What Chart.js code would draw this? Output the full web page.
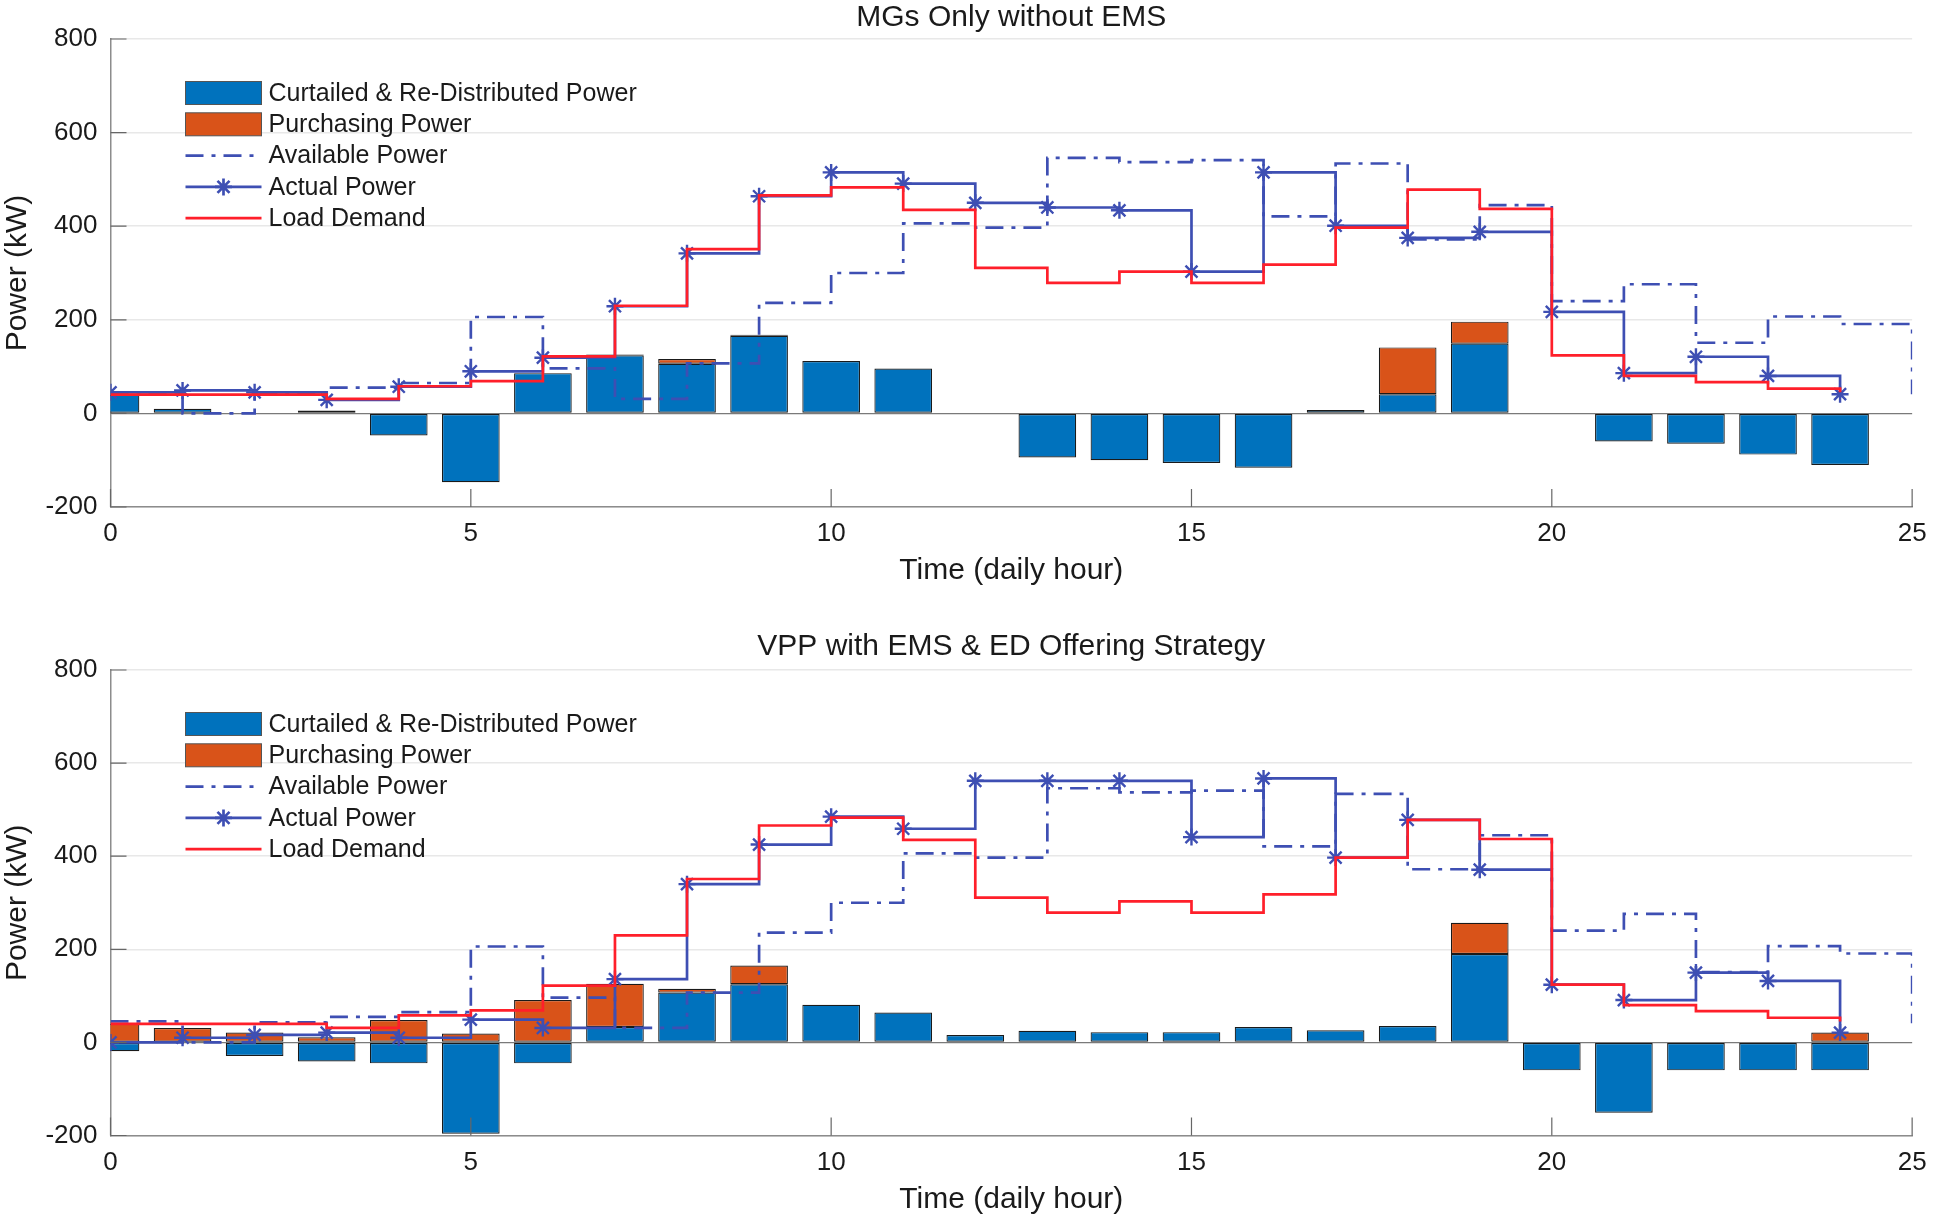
<!DOCTYPE html>
<html>
<head>
<meta charset="utf-8">
<title>MGs vs VPP power</title>
<script src="https://cdn.jsdelivr.net/npm/chart.js@4.4.1/dist/chart.umd.min.js"></script>
<style>
  html, body { margin: 0; padding: 0; background: #fff; }
  canvas { display: block; }
</style>
</head>
<body>
<canvas id="topChart" width="1938" height="611"></canvas>
<canvas id="bottomChart" width="1938" height="611"></canvas>
<script>
// ---------- DATA ----------
const hours = [0, 1, 2, 3, 4, 5, 6, 7, 8, 9, 10, 11, 12, 13, 14, 15, 16, 17, 18, 19, 20, 21, 22, 23, 24];
const availHours = [0, 1, 2, 3, 4, 5, 6, 7, 8, 9, 10, 11, 12, 13, 14, 15, 16, 17, 18, 19, 20, 21, 22, 23, 24, 25];

// same in both plots
const availablePower = [45, 0, 43, 55, 65, 206, 96, 31, 107, 236, 300, 406, 397, 546, 537, 541, 421, 534, 372, 445, 240, 276, 151, 207, 191, 41];
const loadDemand = [40, 40, 40, 31, 58, 69, 122, 230, 351, 466, 483, 435, 311, 279, 303, 279, 318, 397, 478, 437, 124, 80, 67, 53, 45];

// MGs only without EMS
const mgActual = [45, 49, 45, 29, 57, 90, 119, 229, 342, 464, 515, 491, 450, 440, 434, 303, 515, 401, 375, 388, 217, 86, 121, 80, 41];
const mgCurtailed = [40, 10, 0, 6, -47, -147, 86, 124, 106, 166, 112, 96, 0, -94, -100, -106, -116, 7, 41, 149, 0, -60, -65, -88, -110];
const mgPurchasing = [0, 0, 0, 0, 0, 0, 0, 2, 10, 2, 0, 0, 0, 0, 0, 0, 0, 0, 100, 47, 0, 0, 0, 0, 0];

// VPP with EMS & ED offering strategy
const vppActual = [0, 10, 16, 21, 10, 49, 31, 136, 340, 425, 485, 459, 562, 562, 562, 441, 567, 397, 478, 371, 124, 91, 150, 132, 21];
const vppCurtailed = [-19, 0, -29, -41, -45, -196, -45, 33, 107, 125, 81, 64, 16, 25, 22, 22, 33, 26, 35, 190, -60, -151, -60, -60, -60];
const vppPurchasing = [40, 31, 21, 11, 48, 19, 91, 93, 8, 40, 0, 0, 0, 0, 0, 0, 0, 0, 0, 67, 0, 0, 0, 0, 21];

// ---------- STYLE ----------
const FONT = "'Liberation Sans', Arial, Helvetica, sans-serif";
const TEXT = "#1a1a1a";
const AXIS = "#8c8c8c";
const BLUE_BAR = "#0072BD";
const ORANGE_BAR = "#D95319";
const LINE_BLUE = "#3e4fb3";
const LINE_RED = "#ff1f2a";

function pts(xs, ys) {
  return ys.map((v, i) => ({ x: xs[i], y: v }));
}

// ---------- PLUGINS ----------
// MATLAB style ticks pointing into the plot
const innerTicks = {
  id: "innerTicks",
  afterDraw(chart) {
    const { ctx, chartArea, scales } = chart;
    ctx.save();
    ctx.strokeStyle = "#666";
    ctx.lineWidth = 1.2;
    ctx.beginPath();
    scales.x.ticks.forEach((t) => {
      const px = scales.x.getPixelForValue(t.value);
      ctx.moveTo(px, chartArea.bottom);
      ctx.lineTo(px, chartArea.bottom - 18);
    });
    scales.y.ticks.forEach((t) => {
      const py = scales.y.getPixelForValue(t.value);
      ctx.moveTo(chartArea.left, py);
      ctx.lineTo(chartArea.left + 16, py);
    });
    ctx.stroke();
    ctx.restore();
  },
};

// legend drawn inside the plot, upper left
const insideLegend = {
  id: "insideLegend",
  afterDraw(chart) {
    const { ctx, chartArea } = chart;
    const x0 = chartArea.left + 75;
    const w = 76;
    let y = chartArea.top + 54;

    ctx.save();
    ctx.font = "25px " + FONT;
    ctx.textBaseline = "middle";
    ctx.textAlign = "left";

    chart.data.datasets.forEach((ds) => {
      if (ds.type === "line") {
        ctx.strokeStyle = ds.borderColor;
        ctx.lineWidth = ds.borderWidth;
        ctx.setLineDash(ds.borderDash || []);
        ctx.beginPath();
        ctx.moveTo(x0, y);
        ctx.lineTo(x0 + w, y);
        ctx.stroke();
        ctx.setLineDash([]);
        if (ds.pointRadius > 0) {
          ctx.strokeStyle = ds.pointBorderColor;
          Chart.helpers.drawPoint(ctx, {
            pointStyle: ds.pointStyle,
            radius: ds.pointRadius,
            borderWidth: ds.pointBorderWidth,
          }, x0 + w / 2, y);
        }
      } else {
        ctx.fillStyle = ds.backgroundColor;
        ctx.fillRect(x0, y - 11.5, w, 23);
        ctx.strokeStyle = "#555";
        ctx.lineWidth = 1;
        ctx.strokeRect(x0, y - 11.5, w, 23);
      }
      ctx.fillStyle = TEXT;
      ctx.fillText(ds.label, x0 + w + 7, y + 1);
      y += 31.3;
    });
    ctx.restore();
  },
};

// ---------- CREATE CHART ----------
function makeChart(id, title, actual, curtailed, purchasing, lay) {
  const barBorder = (c) => (c.raw && c.raw.y ? 1.2 : 0);

  return new Chart(document.getElementById(id), {
    type: "bar",
    data: {
      datasets: [
        {
          label: "Curtailed & Re-Distributed Power",
          data: pts(hours, curtailed),
          backgroundColor: BLUE_BAR,
          borderColor: "#1a1a1a",
          borderWidth: barBorder,
          borderSkipped: false,
          grouped: false,
          barPercentage: 0.8,
          categoryPercentage: 1,
          clip: 0,
          order: 4,
        },
        {
          label: "Purchasing Power",
          data: pts(hours, purchasing),
          backgroundColor: ORANGE_BAR,
          borderColor: "#1a1a1a",
          borderWidth: barBorder,
          borderSkipped: false,
          grouped: false,
          barPercentage: 0.8,
          categoryPercentage: 1,
          clip: 0,
          order: 4,
        },
        {
          type: "line",
          label: "Available Power",
          data: pts(availHours, availablePower),
          yAxisID: "yLine",
          stepped: true,
          borderColor: LINE_BLUE,
          borderWidth: 2.7,
          borderDash: [18, 8, 4, 8],
          pointRadius: 0,
          fill: false,
          order: 3,
        },
        {
          type: "line",
          label: "Actual Power",
          data: pts(hours, actual),
          yAxisID: "yLine",
          stepped: true,
          borderColor: LINE_BLUE,
          borderWidth: 2.7,
          pointStyle: "star",
          pointRadius: 8.5,
          pointBorderColor: LINE_BLUE,
          pointBorderWidth: 2.4,
          fill: false,
          order: 2,
        },
        {
          type: "line",
          label: "Load Demand",
          data: pts(hours, loadDemand),
          yAxisID: "yLine",
          stepped: true,
          borderColor: LINE_RED,
          borderWidth: 2.7,
          pointRadius: 0,
          fill: false,
          order: 1,
        },
      ],
    },

    options: {
      responsive: false,
      animation: false,
      devicePixelRatio: 1,
      layout: { padding: { left: 0, right: 20, top: 0, bottom: 0 } },

      scales: {
        x: {
          type: "linear",
          min: 0,
          max: 25,
          offset: false,
          afterFit(scale) {
            scale.height = lay.xHeight;
          },
          ticks: {
            stepSize: 5,
            color: TEXT,
            padding: 11.4,
            maxRotation: 0,
            font: { family: FONT, size: 26 },
          },
          grid: { display: false, drawTicks: false },
          border: { display: true, color: AXIS, width: 1.5 },
          title: {
            display: true,
            text: "Time (daily hour)",
            color: TEXT,
            font: { family: FONT, size: 30 },
            padding: { top: 0, bottom: lay.xTitleBottom },
          },
        },

        y: {
          min: -200,
          max: 800,
          stacked: true,
          afterFit(scale) {
            scale.width = 110.5;
          },
          ticks: {
            stepSize: 200,
            color: TEXT,
            padding: 13,
            font: { family: FONT, size: 26 },
          },
          grid: {
            drawTicks: false,
            color: (c) => (c.tick && c.tick.value === 0 ? "#7a7a7a" : "#e8e8e8"),
            lineWidth: (c) => (c.tick && c.tick.value === 0 ? 1.2 : 1.5),
          },
          border: { display: true, color: AXIS, width: 1.5 },
          title: {
            display: true,
            text: "Power (kW)",
            color: TEXT,
            font: { family: FONT, size: 30 },
            padding: { top: 0, bottom: 0 },
          },
        },

        yLine: {
          display: false,
          min: -200,
          max: 800,
        },
      },

      plugins: {
        legend: { display: false },
        tooltip: { enabled: false },
        title: {
          display: true,
          text: title,
          fullSize: false,
          color: TEXT,
          font: { family: FONT, size: 30, weight: "normal" },
          padding: lay.titlePad,
        },
      },
    },
    plugins: [innerTicks, insideLegend],
  });
}

makeChart("topChart", "MGs Only without EMS", mgActual, mgCurtailed, mgPurchasing, {
  titlePad: { top: 0, bottom: 3 },
  xHeight: 104,
  xTitleBottom: 22,
});

makeChart("bottomChart", "VPP with EMS & ED Offering Strategy", vppActual, vppCurtailed, vppPurchasing, {
  titlePad: { top: 18, bottom: 5 },
  xHeight: 86.5,
  xTitleBottom: 4,
});
</script>
</body>
</html>
